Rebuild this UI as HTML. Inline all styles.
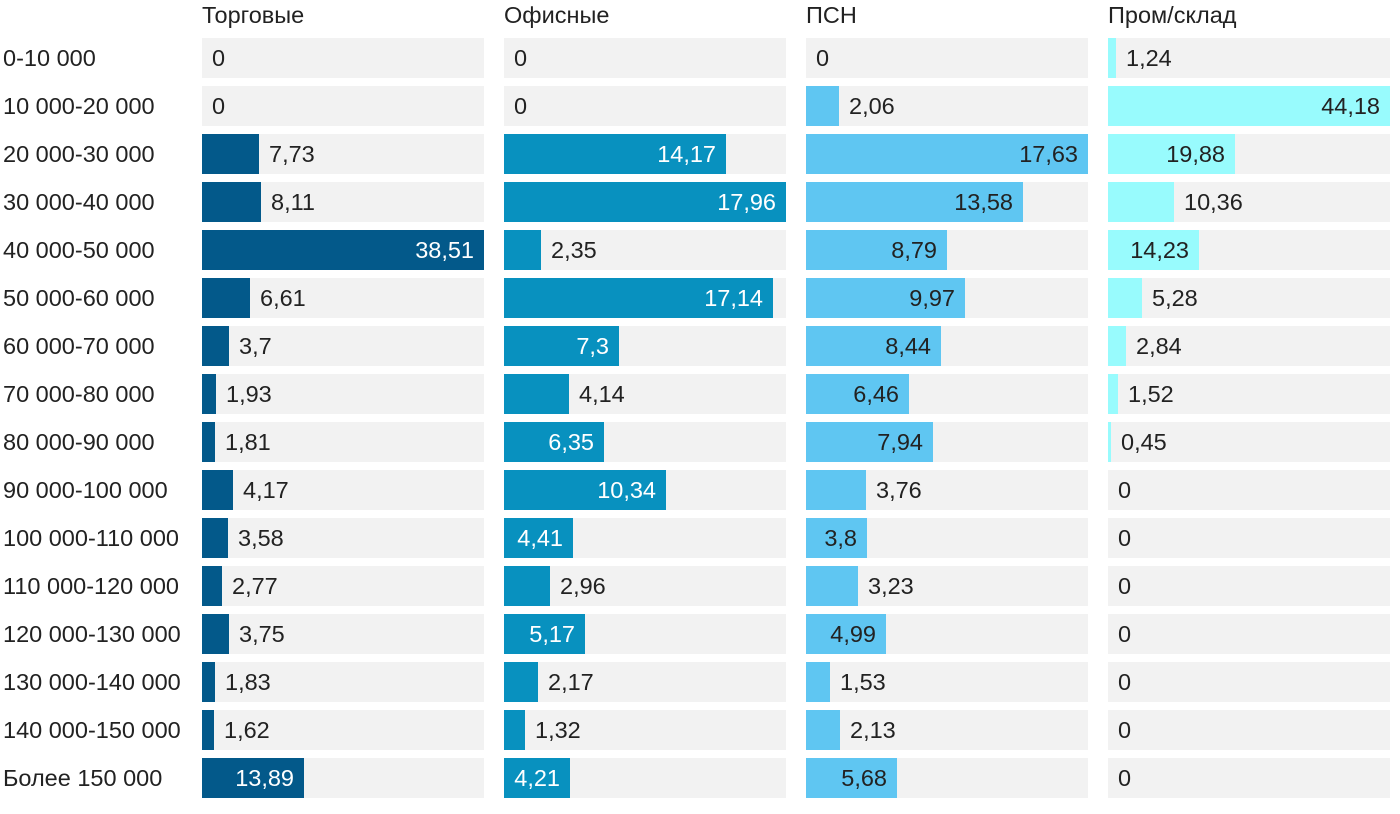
<!DOCTYPE html>
<html><head><meta charset="utf-8">
<style>
body{margin:0;width:1400px;height:814px;background:#fff;font-family:"Liberation Sans",sans-serif;color:#222;position:relative;overflow:hidden}
.t{position:absolute;font-size:23.5px;line-height:28px;white-space:nowrap}
.bg{position:absolute;height:40px;background:#f2f2f2}
.bar{position:absolute;height:40px}
</style></head><body>
<div id="c"></div>
<script>
const labels=["0-10 000","10 000-20 000","20 000-30 000","30 000-40 000","40 000-50 000","50 000-60 000","60 000-70 000","70 000-80 000","80 000-90 000","90 000-100 000","100 000-110 000","110 000-120 000","120 000-130 000","130 000-140 000","140 000-150 000","Более 150 000"];
const panels=[
{h:"Торговые",x:202,c:"#03598a",tc:"#fff",max:38.51,v:[0,0,7.73,8.11,38.51,6.61,3.7,1.93,1.81,4.17,3.58,2.77,3.75,1.83,1.62,13.89],ins:[38.51,13.89]},
{h:"Офисные",x:504,c:"#0891bf",tc:"#fff",max:17.96,v:[0,0,14.17,17.96,2.35,17.14,7.3,4.14,6.35,10.34,4.41,2.96,5.17,2.17,1.32,4.21],ins:[14.17,17.96,17.14,7.3,6.35,10.34,4.41,5.17,4.21]},
{h:"ПСН",x:806,c:"#5fc6f2",tc:"#222",max:17.63,v:[0,2.06,17.63,13.58,8.79,9.97,8.44,6.46,7.94,3.76,3.8,3.23,4.99,1.53,2.13,5.68],ins:[17.63,13.58,8.79,9.97,8.44,6.46,7.94,3.8,4.99,5.68]},
{h:"Пром/склад",x:1108,c:"#98fbfd",tc:"#222",max:44.18,v:[1.24,44.18,19.88,10.36,14.23,5.28,2.84,1.52,0.45,0,0,0,0,0,0,0],ins:[44.18,19.88,14.23]}
];
let h="";
labels.forEach((l,i)=>{h+=`<div class="t" style="left:3px;top:${44+48*i}px">${l}</div>`;});
panels.forEach(p=>{
 h+=`<div class="t" style="left:${p.x}px;top:1px">${p.h}</div>`;
 p.v.forEach((v,i)=>{
  const y=38+48*i, w=Math.round(v/p.max*282), s=String(v).replace(".",",");
  h+=`<div class="bg" style="left:${p.x}px;top:${y}px;width:282px"></div>`;
  if(w>0)h+=`<div class="bar" style="left:${p.x}px;top:${y}px;width:${w}px;background:${p.c}"></div>`;
  if(p.ins.includes(v)) h+=`<div class="t" style="right:${1400-(p.x+w-10)}px;top:${y+6}px;color:${p.tc}">${s}</div>`;
  else h+=`<div class="t" style="left:${p.x+w+10}px;top:${y+6}px">${s}</div>`;
 });
});
document.getElementById("c").innerHTML=h;
</script>
</body></html>
